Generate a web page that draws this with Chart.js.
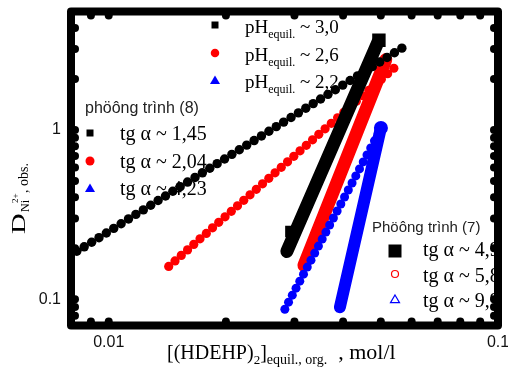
<!DOCTYPE html>
<html><head><meta charset="utf-8">
<script src="https://cdn.jsdelivr.net/npm/chart.js@4/dist/chart.umd.min.js"></script>
<style>html,body{margin:0;padding:0;background:#fff}canvas{display:block}</style>
</head><body>
<canvas id="c" width="508" height="379"></canvas>
<script>
// ---------- axis ticks ----------
const xTickValues = [0.01, 0.1];
const xTickLabels = ['0.01', '0.1'];
const yTickValues = [0.1, 1];
const yTickLabels = ['0.1', '1'];
const xFrameTicks = [0.009, 0.01, 0.02, 0.03, 0.04, 0.05, 0.06, 0.07, 0.08, 0.09];
const yFrameTicks = [0.08, 0.09, 0.1, 0.2, 0.3, 0.4, 0.5, 0.6, 0.7, 0.8, 0.9, 1, 2, 3, 4];

// ---------- equation (8) series (dotted) ----------
const eq8_pH30_x = [0.00828,0.00865,0.00904,0.00944,0.00986,0.01030,0.01076,0.01124,0.01174,0.01227,0.01282,0.01339,0.01399,0.01461,0.01526,0.01594,0.01666,0.01740,0.01818,0.01899,0.01984,0.02072,0.02165,0.02262,0.02363,0.02468,0.02579,0.02694,0.02814,0.02940,0.03071,0.03208,0.03352,0.03501,0.03658,0.03821,0.03992,0.04170,0.04357,0.04551,0.04754,0.04967,0.05189,0.05420,0.05663];
const eq8_pH30_y = [0.192,0.204,0.217,0.231,0.246,0.262,0.279,0.298,0.317,0.337,0.359,0.383,0.407,0.434,0.462,0.492,0.524,0.558,0.594,0.632,0.673,0.717,0.763,0.813,0.865,0.921,0.981,1.045,1.112,1.184,1.261,1.343,1.430,1.522,1.621,1.726,1.838,1.957,2.084,2.219,2.362,2.515,2.678,2.852,3.037];
const eq8_pH26_x = [0.01426,0.01480,0.01536,0.01594,0.01654,0.01716,0.01781,0.01848,0.01917,0.01990,0.02065,0.02142,0.02223,0.02307,0.02394,0.02484,0.02578,0.02675,0.02775,0.02880,0.02989,0.03101,0.03218,0.03339,0.03465,0.03596,0.03731,0.03872,0.04018,0.04169,0.04326,0.04489,0.04658,0.04834,0.05016,0.05205,0.05401];
const eq8_pH26_y = [0.1563,0.1685,0.1816,0.1957,0.2109,0.2273,0.2449,0.2640,0.2845,0.3066,0.3304,0.3561,0.3837,0.4135,0.4457,0.4803,0.5176,0.5578,0.6012,0.6479,0.6982,0.7525,0.8110,0.8740,0.9419,1.0151,1.0939,1.1789,1.2705,1.3692,1.4756,1.5903,1.7138,1.8470,1.9905,2.1451,2.3118];
const eq8_pH22_x = [0.02834,0.02897,0.02962,0.03028,0.03096,0.03165,0.03236,0.03308,0.03382,0.03457,0.03535,0.03613,0.03694,0.03777,0.03861,0.03947,0.04035,0.04125,0.04218,0.04312,0.04408,0.04506,0.04607,0.04710,0.04815,0.04923,0.05033];
const eq8_pH22_y = [0.0873,0.0961,0.1057,0.1163,0.1279,0.1407,0.1548,0.1702,0.1873,0.2060,0.2266,0.2493,0.2743,0.3017,0.3319,0.3651,0.4016,0.4418,0.4860,0.5347,0.5882,0.6470,0.7118,0.7830,0.8613,0.9475,1.0423];

// ---------- equation (7) series (thick) ----------
const eq7_pH30_x = [0.02868, 0.04915];
const eq7_pH30_y = [0.1916, 3.294];
const eq7_pH26_x = [0.03172, 0.05150];
const eq7_pH26_y = [0.1585, 2.600];
const eq7_pH22_x = [0.03925, 0.05003];
const eq7_pH22_y = [0.0897, 1.0275];
const eq7_pH30_markX = [0.02936, 0.04944];
const eq7_pH30_markY = [0.2512, 3.383];

// ---------- legend texts ----------
const pHValues = ['3,0', '2,6', '2,2'];
const eq8Title = 'phöông trình (8)';
const eq8Slopes = ['1,45', '2,04', '4,23'];
const eq7Title = 'Phöông trình (7)';
const eq7Slopes = ['4,9', '5,8', '9,9'];

const SERIF = '"Liberation Serif","Times New Roman",serif';
const SANS = '"Liberation Sans",Arial,sans-serif';
const BLACK = '#000000', RED = '#ff0000', BLUE = '#0000ff';

function pts(xs, ys) { return xs.map((x, i) => ({ x: x, y: ys[i] })); }

function runs(ctx, x, y, parts) {
  for (const [t, f, dy] of parts) {
    ctx.font = f;
    ctx.fillText(t, x, y + dy);
    x += ctx.measureText(t).width;
  }
}
function marker(ctx, kind, x, y, s, color, filled) {
  ctx.save();
  ctx.fillStyle = color; ctx.strokeStyle = color; ctx.lineWidth = 1.2;
  ctx.beginPath();
  if (kind === 'square') { ctx.rect(x - s / 2, y - s / 2, s, s); }
  else if (kind === 'circle') { ctx.arc(x, y, s / 2, 0, Math.PI * 2); }
  else { ctx.moveTo(x, y - s * 0.45); ctx.lineTo(x + s / 2, y + s * 0.4); ctx.lineTo(x - s / 2, y + s * 0.4); ctx.closePath(); }
  if (filled) ctx.fill(); else ctx.stroke();
  ctx.restore();
}

const deco = {
  id: 'deco',
  beforeDatasetsDraw(chart) {
    const ctx = chart.ctx;
    ctx.save();
    ctx.textAlign = 'left'; ctx.textBaseline = 'alphabetic';
    const kinds = ['square', 'circle', 'triangle'];
    const cols = [BLACK, RED, BLUE];
    const topY = [33, 61, 88];
    for (let i = 0; i < 3; i++) {
      marker(ctx, kinds[i], 215, topY[i] - 8, i === 0 ? 7 : (i === 1 ? 8.5 : 10), cols[i], true);
      ctx.fillStyle = '#000';
      runs(ctx, 245, topY[i], [['pH', '19px ' + SERIF, 0], ['equil.', '12px ' + SERIF, 5], [' ~ ' + pHValues[i], '19px ' + SERIF, 0]]);
    }
    ctx.fillStyle = '#222';
    ctx.font = '16px ' + SANS;
    ctx.fillText(eq8Title, 85, 113);
    const l2Y = [140, 168, 195];
    for (let i = 0; i < 3; i++) {
      marker(ctx, kinds[i], 90, l2Y[i] - 7, i === 0 ? 7 : (i === 1 ? 9 : 10), cols[i], true);
      ctx.fillStyle = '#000';
      runs(ctx, 120, l2Y[i], [['tg α ~ ' + eq8Slopes[i], '20px ' + SERIF, 0]]);
    }
    ctx.fillStyle = '#222';
    ctx.font = '15px ' + SANS;
    ctx.fillText(eq7Title, 372, 232);
    const l3Y = [256, 282, 307];
    marker(ctx, 'square', 395, 251, 13, BLACK, true);
    marker(ctx, 'circle', 395, 274, 7, RED, false);
    marker(ctx, 'triangle', 395, 299, 9, BLUE, false);
    for (let i = 0; i < 3; i++) {
      ctx.fillStyle = '#000';
      runs(ctx, 423, l3Y[i], [['tg α ~ ' + eq7Slopes[i], '20px ' + SERIF, 0]]);
    }
    ctx.restore();
  },
  afterDatasetsDraw(chart) {
    const ctx = chart.ctx, a = chart.chartArea;
    const xs = chart.scales.x, ys = chart.scales.y;
    ctx.save();
    ctx.strokeStyle = '#000'; ctx.fillStyle = '#000';
    ctx.lineWidth = 8; ctx.lineJoin = 'round';
    ctx.strokeRect(a.left, a.top, a.right - a.left, a.bottom - a.top);
    const r = 4;
    for (const v of xFrameTicks) {
      const px = xs.getPixelForValue(v);
      ctx.beginPath(); ctx.arc(px, a.bottom - 4, r, 0, Math.PI * 2); ctx.fill();
      ctx.beginPath(); ctx.arc(px, a.top + 4, r, 0, Math.PI * 2); ctx.fill();
    }
    for (const v of yFrameTicks) {
      const py = ys.getPixelForValue(v);
      ctx.beginPath(); ctx.arc(a.left + 4, py, r, 0, Math.PI * 2); ctx.fill();
      ctx.beginPath(); ctx.arc(a.right - 4, py, r, 0, Math.PI * 2); ctx.fill();
    }
    ctx.restore();
  },
  afterDraw(chart) {
    const ctx = chart.ctx;
    ctx.save();
    ctx.fillStyle = '#000'; ctx.textAlign = 'left'; ctx.textBaseline = 'alphabetic';
    runs(ctx, 167, 359, [['[(HDEHP)', '20px ' + SERIF, 0], ['2', '13px ' + SERIF, 5], [']', '20px ' + SERIF, 0],
      ['equil., org.', '14px ' + SERIF, 5], ['  , mol/l', '22px ' + SERIF, 0]]);
    ctx.translate(25, 234);
    ctx.rotate(-Math.PI / 2);
    ctx.save();
    ctx.scale(1.5, 1);
    ctx.font = '19px ' + SERIF;
    ctx.fillText('D', 0, 0);
    ctx.restore();
    runs(ctx, 22, 0, [['Ni', '12px ' + SERIF, 4]]);
    runs(ctx, 31, 0, [['2+', '9px ' + SERIF, -7]]);
    runs(ctx, 41, 0, [[', obs.', '14px ' + SERIF, 3]]);
    ctx.restore();
  }
};

new Chart(document.getElementById('c'), {
  type: 'scatter',
  data: {
    datasets: [
      { label: 'eq7 pH 2.2', data: pts(eq7_pH22_x, eq7_pH22_y), showLine: true, borderColor: BLUE, borderWidth: 12, borderCapStyle: 'round', pointRadius: [0, 7], pointBackgroundColor: BLUE, pointBorderWidth: 0 },
      { label: 'eq8 pH 2.2', data: pts(eq8_pH22_x, eq8_pH22_y), pointRadius: 4.5, pointBackgroundColor: BLUE, pointBorderWidth: 0 },
      { label: 'eq7 pH 3.0 markers', data: pts(eq7_pH30_markX, eq7_pH30_markY), pointStyle: 'rect', pointRadius: [8, 9.5], pointBackgroundColor: BLACK, pointBorderWidth: 0 },
      { label: 'eq8 pH 3.0', data: pts(eq8_pH30_x, eq8_pH30_y), pointRadius: 4.7, pointBackgroundColor: BLACK, pointBorderWidth: 0 },
      { label: 'eq7 pH 2.6', data: pts(eq7_pH26_x, eq7_pH26_y), showLine: true, borderColor: RED, borderWidth: 13, borderCapStyle: 'round', pointRadius: 0 },
      { label: 'eq7 pH 3.0', data: pts(eq7_pH30_x, eq7_pH30_y), showLine: true, borderColor: BLACK, borderWidth: 13, borderCapStyle: 'round', pointRadius: 0 },
      { label: 'eq8 pH 2.6', data: pts(eq8_pH26_x, eq8_pH26_y), pointRadius: 4.6, pointBackgroundColor: RED, pointBorderWidth: 0 }
    ]
  },
  options: {
    responsive: false,
    animation: false,
    events: [],
    layout: { padding: { top: 11.5, right: 10, left: 0, bottom: 0 } },
    plugins: { legend: { display: false }, tooltip: { enabled: false } },
    scales: {
      x: {
        type: 'logarithmic', min: 0.008, max: 0.1,
        grid: { display: false, drawTicks: false }, border: { display: false },
        afterBuildTicks(s) { s.ticks = xTickValues.map(v => ({ value: v })); },
        afterFit(s) { s.height = 53.5; s.paddingLeft = 0; s.paddingRight = 0; },
        ticks: { color: '#111', font: { family: SANS, size: 16 }, padding: 7, maxRotation: 0, autoSkip: false,
          callback: (v, i) => xTickLabels[i] }
      },
      y: {
        type: 'logarithmic', min: 0.07, max: 5,
        grid: { display: false, drawTicks: false }, border: { display: false },
        afterBuildTicks(s) { s.ticks = yTickValues.map(v => ({ value: v })); },
        afterFit(s) { s.width = 71; s.paddingTop = 0; s.paddingBottom = 0; },
        ticks: { color: '#111', font: { family: SANS, size: 16 }, padding: 10, autoSkip: false,
          callback: (v, i) => yTickLabels[i] }
      }
    }
  },
  plugins: [deco]
});
</script>
</body></html>
